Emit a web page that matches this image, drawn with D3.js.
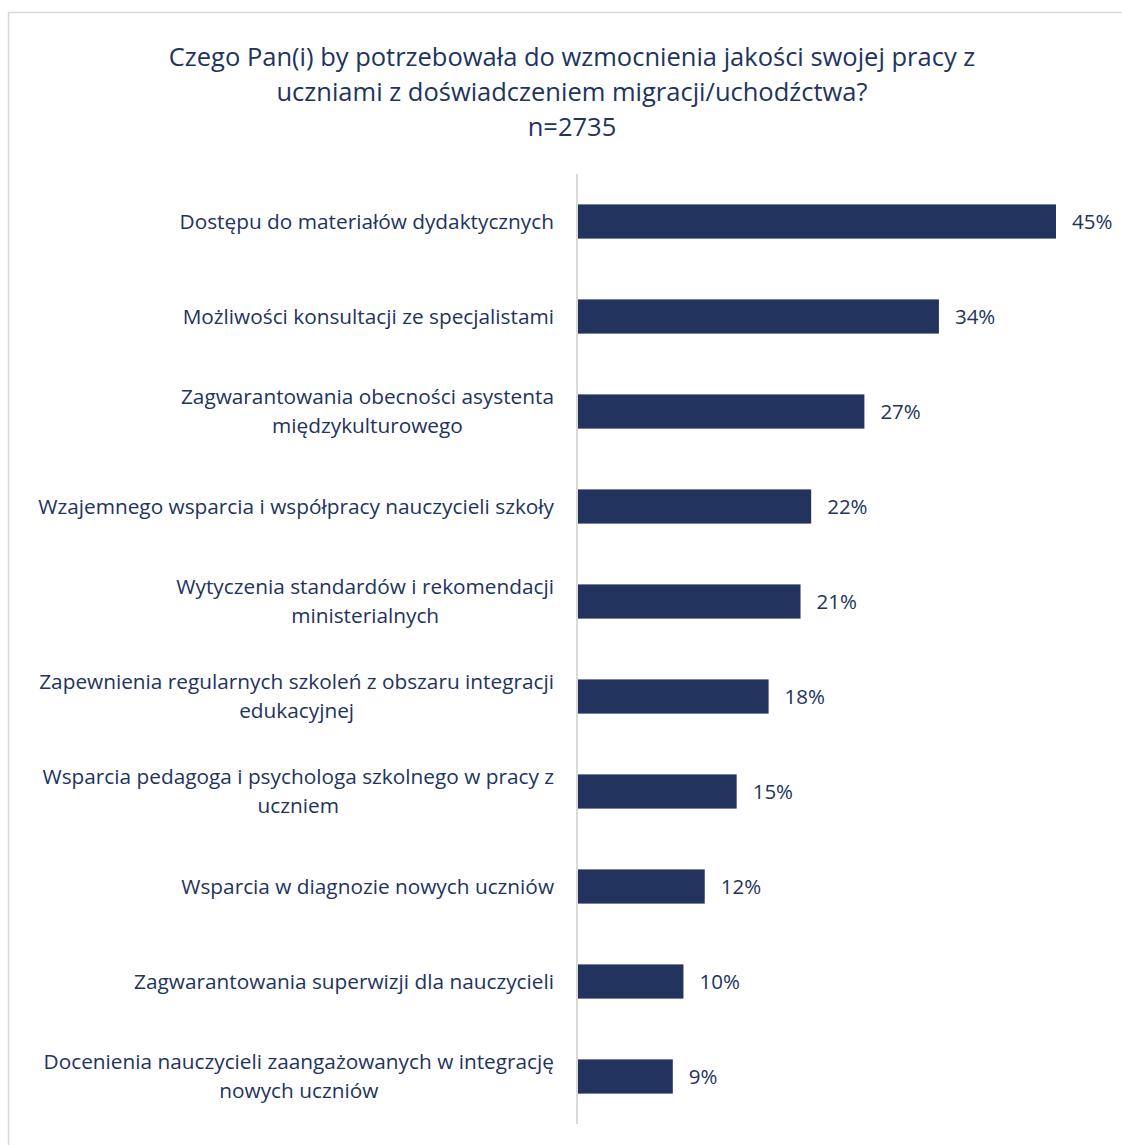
<!DOCTYPE html>
<html>
<head>
<meta charset="utf-8">
<script src="https://cdn.jsdelivr.net/npm/d3@7"></script>
<style>
  body { margin: 0; background: #fff; }
  svg text { font-family: "Open Sans", Lato, sans-serif; fill: #22335e; }
</style>
</head>
<body>
<svg id="chart" width="1122" height="1145"></svg>
<script>
// chart data
var titleLines = [
    "Czego Pan(i) by potrzebowała do wzmocnienia jakości swojej pracy z",
    "uczniami z doświadczeniem migracji/uchodźctwa?",
    "n=2735"
];

var categories = [
    "Dostępu do materiałów dydaktycznych",
    "Możliwości konsultacji ze specjalistami",
    "Zagwarantowania obecności asystenta\nmiędzykulturowego",
    "Wzajemnego wsparcia i współpracy nauczycieli szkoły",
    "Wytyczenia standardów i rekomendacji\nministerialnych",
    "Zapewnienia regularnych szkoleń z obszaru integracji\nedukacyjnej",
    "Wsparcia pedagoga i psychologa szkolnego w pracy z\nuczniem",
    "Wsparcia w diagnozie nowych uczniów",
    "Zagwarantowania superwizji dla nauczycieli",
    "Docenienia nauczycieli zaangażowanych w integrację\nnowych uczniów"
];

var values = [45, 34, 27, 22, 21, 18, 15, 12, 10, 9];

var svg = d3.select("#chart");
var navy = "#22335e";

// frame
svg.append("rect")
    .attr("x", 8.5).attr("y", 12.5)
    .attr("width", 1130).attr("height", 1150)
    .attr("fill", "none")
    .attr("stroke", "#d9d9d9")
    .attr("stroke-width", 1.5);

// title
svg.append("g").selectAll("text")
    .data(titleLines)
    .enter().append("text")
    .attr("x", 572)
    .attr("y", function (d, i) { return 66 + i * 35; })
    .attr("text-anchor", "middle")
    .style("font-size", "25.5px")
    .text(function (d) { return d; });

var x0 = 577;
var x = d3.scaleLinear().domain([0, 45]).range([x0, 1056]);
var y = d3.scaleBand()
    .domain(d3.range(categories.length))
    .range([174, 1124])
    .paddingInner(0.64)
    .paddingOuter(0.32);

// bars
svg.append("g").selectAll("rect")
    .data(values)
    .enter().append("rect")
    .attr("x", x0)
    .attr("y", function (d, i) { return y(i); })
    .attr("width", function (d) { return x(d) - x0; })
    .attr("height", y.bandwidth())
    .attr("fill", navy);

// value labels
svg.append("g").selectAll("text")
    .data(values)
    .enter().append("text")
    .attr("x", function (d) { return x(d) + 16; })
    .attr("y", function (d, i) { return y(i) + y.bandwidth() / 2; })
    .attr("dy", "0.35em")
    .style("font-size", "20.5px")
    .text(function (d) { return d + "%"; });

// category labels: each block centred, widest line right-aligned at labelRight
var labelRight = 554;
var labels = svg.append("g");
categories.forEach(function (c, i) {
    var lines = c.split("\n");
    var cy = y(i) + y.bandwidth() / 2;
    var g = labels.append("g");
    var texts = g.selectAll("text")
        .data(lines)
        .enter().append("text")
        .attr("y", function (d, j) { return cy + (j - (lines.length - 1) / 2) * 29; })
        .attr("dy", "0.35em")
        .attr("text-anchor", "middle")
        .style("font-size", "20.8px")
        .text(function (d) { return d; });
    var w = d3.max(texts.nodes(), function (n) { return n.getComputedTextLength(); });
    texts.attr("x", labelRight - w / 2);
});

// axis line
svg.append("line")
    .attr("x1", x0).attr("x2", x0)
    .attr("y1", 174).attr("y2", 1124)
    .attr("stroke", "#d9d9d9")
    .attr("stroke-width", 2);
</script>
</body>
</html>
